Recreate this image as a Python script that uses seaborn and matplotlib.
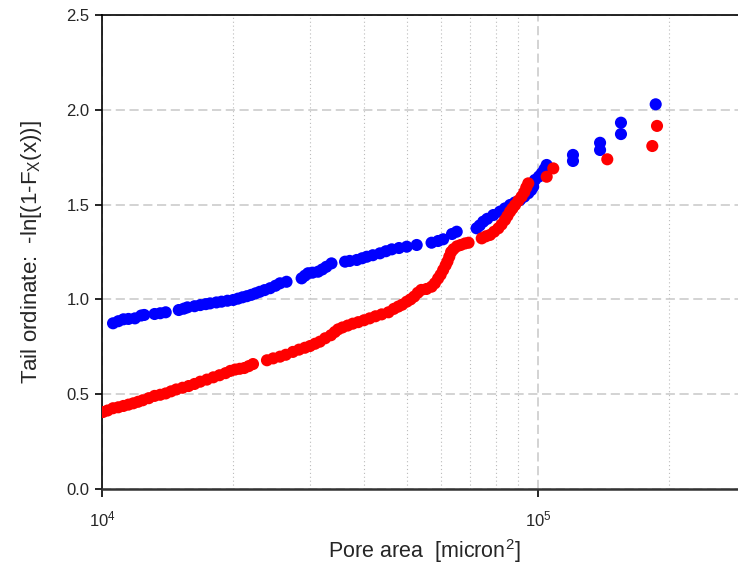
import numpy as np
import pandas as pd
import matplotlib
matplotlib.use("Agg")
import matplotlib.pyplot as plt
import seaborn as sns
from matplotlib.ticker import LogLocator, LogFormatterMathtext, NullFormatter, FormatStrFormatter

# ---- data ----
blue_x = [10600, 10900, 11200, 11500, 11900, 12300, 12500, 13200, 13600, 14000,
          15000, 15400, 15700, 16300, 16800, 17300, 17700, 18300, 18800, 19400,
          20000, 20500, 21000, 21500, 22000, 22500, 23000, 23600, 24300, 25000,
          25600, 26500, 28700, 29200, 29700, 30400, 31300, 32000, 32700, 33600,
          36100, 37000, 38400, 39500, 40500, 41800, 43400, 44800, 46200, 48000,
          50000, 52700, 57000, 59000, 60600, 63500, 65100, 72300, 73500, 74900,
          76500, 79000, 81800, 84000, 86300, 88500, 90900, 93000, 95000, 96500,
          97500, 98400, 100500, 102000, 103500, 104700,
          120300, 120300, 138800, 138800, 155000, 155000, 186200]
blue_y = [0.874, 0.885, 0.895, 0.897, 0.900, 0.915, 0.918, 0.923, 0.927, 0.932,
          0.944, 0.951, 0.958, 0.964, 0.970, 0.975, 0.979, 0.984, 0.988, 0.993,
          0.997, 1.004, 1.011, 1.017, 1.024, 1.032, 1.040, 1.049, 1.059, 1.072,
          1.085, 1.093, 1.111, 1.125, 1.138, 1.141, 1.146, 1.158, 1.172, 1.190,
          1.199, 1.203, 1.208, 1.217, 1.225, 1.233, 1.243, 1.254, 1.264, 1.271,
          1.278, 1.287, 1.299, 1.308, 1.317, 1.345, 1.357, 1.375, 1.390, 1.410,
          1.425, 1.445, 1.463, 1.480, 1.498, 1.511, 1.524, 1.542, 1.560, 1.577,
          1.594, 1.630, 1.648, 1.665, 1.687, 1.709,
          1.730, 1.762, 1.788, 1.826, 1.872, 1.932, 2.029]

red_x = [10050, 10300, 10600, 10900, 11200, 11500, 11800, 12100, 12400, 12800,
         13200, 13600, 14000, 14400, 14800, 15300, 15800, 16300, 16800, 17400,
         18000, 18600, 19200, 19700, 20200, 20700, 21200, 21700, 22200, 23900,
         24700, 25600, 26400, 27400, 28300, 29200, 30000, 30800, 31600, 32500,
         33500, 34200, 34800, 35600, 36600, 37600, 38700, 39900, 41100, 42400,
         43800, 45400, 46700, 47800, 48800, 50000, 51000, 52000, 53000, 54000,
         55500, 57000, 58000, 59000, 59800, 60600, 61400, 62000, 62600, 63200,
         64000, 65200, 66500, 68000, 69300, 74300, 76000, 77600, 79300, 81100,
         82500, 84000, 85100, 86300, 87400, 88600, 90100, 91700, 93000, 94000,
         95000, 104700, 108400, 144200, 182900, 187500]
red_y = [0.406, 0.414, 0.426, 0.431, 0.438, 0.445, 0.452, 0.460, 0.468, 0.479,
         0.491, 0.497, 0.504, 0.515, 0.525, 0.534, 0.543, 0.554, 0.566, 0.577,
         0.589, 0.600, 0.611, 0.623, 0.630, 0.634, 0.638, 0.648, 0.659, 0.679,
         0.689, 0.698, 0.708, 0.723, 0.735, 0.745, 0.754, 0.766, 0.777, 0.795,
         0.811, 0.828, 0.842, 0.852, 0.862, 0.872, 0.880, 0.890, 0.900, 0.911,
         0.921, 0.932, 0.950, 0.962, 0.972, 0.988, 1.000, 1.015, 1.035, 1.050,
         1.055, 1.067, 1.085, 1.110, 1.130, 1.155, 1.180, 1.200, 1.225, 1.250,
         1.265, 1.280, 1.287, 1.295, 1.299, 1.322, 1.333, 1.340, 1.357, 1.375,
         1.395, 1.419, 1.440, 1.463, 1.480, 1.498, 1.520, 1.542, 1.565, 1.590,
         1.612, 1.647, 1.691, 1.739, 1.809, 1.915]

y_ticks = [0.0, 0.5, 1.0, 1.5, 2.0, 2.5]
x_label = "Pore area  [micron$^2$]"
y_label = "Tail ordinate:  -ln[(1-F$_X$(x))]"

sns.set_style("white")
plt.rcParams['font.family'] = ['Liberation Sans', 'DejaVu Sans']
plt.rcParams['mathtext.default'] = 'regular'
plt.rcParams['mathtext.fontset'] = 'custom'
plt.rcParams['mathtext.rm'] = 'Liberation Sans'

fig = plt.figure(figsize=(7.38, 5.66), dpi=100)
ax = fig.add_axes([102/738, 77/566, 644/738, 474/566])

df_b = pd.DataFrame({"x": blue_x, "y": blue_y})
df_r = pd.DataFrame({"x": red_x, "y": red_y})
sns.scatterplot(data=df_b, x="x", y="y", color="#0000FF", s=76, edgecolor="none",
                linewidth=0, ax=ax, zorder=3)
sns.scatterplot(data=df_r, x="x", y="y", color="#FF0000", s=76, edgecolor="none",
                linewidth=0, ax=ax, zorder=4)

ax.set_xscale("log")
ax.set_xlim(1e4, 3e5)
ax.set_ylim(0, 2.5)
ax.set_yticks(y_ticks)
ax.yaxis.set_major_formatter(FormatStrFormatter("%.1f"))
ax.xaxis.set_major_locator(LogLocator(base=10, numticks=10))
ax.xaxis.set_major_formatter(LogFormatterMathtext())
ax.xaxis.set_minor_locator(LogLocator(base=10, subs=np.arange(2, 10), numticks=20))
ax.xaxis.set_minor_formatter(NullFormatter())

ax.grid(True, which="major", axis="y", color="#c8c8c8", linestyle=(0, (6, 3)), linewidth=1.1)
ax.grid(True, which="major", axis="x", color="#c8c8c8", linestyle=(0, (6, 3)), linewidth=1.1)
ax.grid(True, which="minor", axis="x", color="#bbbbbb", linestyle=(0, (1, 2.5)), linewidth=0.8)
ax.set_axisbelow(True)

for side in ["top", "left"]:
    ax.spines[side].set_visible(True)
    ax.spines[side].set_color("black")
    ax.spines[side].set_linewidth(1.2)
ax.spines["bottom"].set_color("#333333")
ax.spines["bottom"].set_linewidth(1.8)
ax.spines["right"].set_visible(False)

ax.tick_params(axis="y", which="major", direction="out", length=5, width=1.2,
               color="black", labelsize=12, pad=4, left=True)
ax.tick_params(axis="x", which="major", direction="out", length=6, width=1.2,
               color="black", labelsize=12, pad=9, bottom=True)
ax.tick_params(axis="x", which="minor", length=0)

ax.set_xlabel(x_label, fontsize=15.5, labelpad=5)
ax.set_ylabel(y_label, fontsize=16, labelpad=16)

fig.savefig("out.png", dpi=100)
